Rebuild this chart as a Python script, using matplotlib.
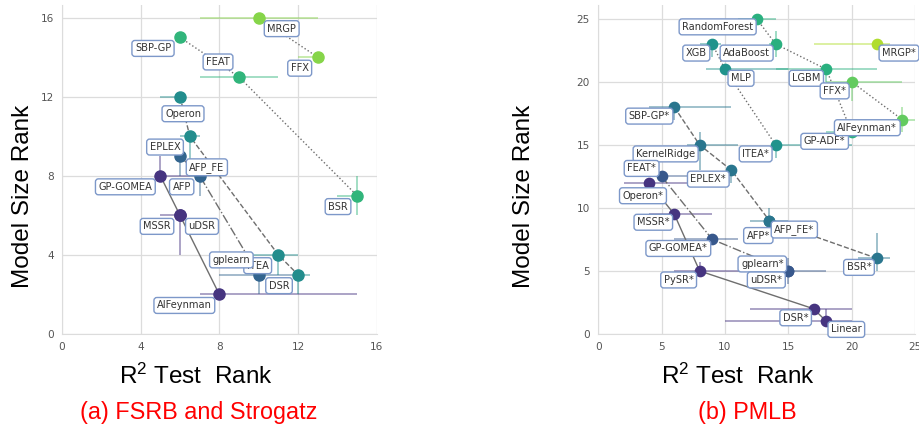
import numpy as np
import matplotlib
matplotlib.use("Agg")
import matplotlib.pyplot as plt

plt.rcParams["font.family"] = ["DejaVu Sans"]
plt.rcParams["mathtext.fontset"] = "custom"
plt.rcParams["mathtext.rm"] = "Liberation Sans"
plt.rcParams["mathtext.it"] = "Liberation Sans:italic"

# ---------------- (a) FSRB and Strogatz ----------------
methods_a = ["GP-GOMEA", "MSSR", "uDSR", "AIFeynman",
             "EPLEX", "AFP", "ITEA",
             "Operon", "AFP_FE", "DSR", "gplearn",
             "SBP-GP", "FEAT", "BSR",
             "MRGP", "FFX"]
r2_rank_a = [5, 6, 6, 8,
             6, 7, 10,
             6, 6.5, 12, 11,
             6, 9, 15,
             10, 13]
size_rank_a = [8, 6, 6, 2,
               9, 8, 3,
               12, 10, 3, 4,
               15, 13, 7,
               16, 14]
front_a = [1, 1, 1, 1,
           2, 2, 2,
           3, 3, 3, 3,
           4, 4, 4,
           5, 5]
r2_lo_a = [5, 5, 6, 7,
           6, 6.5, 8,
           5, 6, 12, 9.7,
           6, 7, 14,
           7, 12]
r2_hi_a = [6.5, 6, 6, 15,
           6, 7, 12,
           6, 7, 12.6, 12,
           6, 11, 15,
           13, 13]
size_lo_a = [8, 4, 6, 2,
             8, 7, 2,
             12, 8, 2, 3,
             15, 13, 6,
             16, 14]
size_hi_a = [9, 6, 6, 2,
             9, 8, 3,
             12, 10, 3, 4,
             15, 13, 8,
             16, 14]

# ---------------- (b) PMLB ----------------
methods_b = ["Operon*", "MSSR*", "PySR*", "DSR*", "Linear",
             "FEAT*", "GP-GOMEA*", "uDSR*", "gplearn*",
             "SBP-GP*", "KernelRidge", "EPLEX*", "AFP*", "AFP_FE*", "BSR*",
             "XGB", "MLP", "ITEA*",
             "RandomForest", "AdaBoost", "LGBM", "GP-ADF*",
             "FFX*", "AIFeynman*",
             "MRGP*"]
r2_rank_b = [4, 6, 8, 17, 18,
             5, 9, 15, 15,
             6, 8, 10.5, 13.5, 13.5, 22,
             9, 10, 14,
             12.5, 14, 18, 20,
             20, 24,
             22]
size_rank_b = [12, 9.5, 5, 2, 1,
               12.5, 7.5, 5, 5,
               18, 15, 13, 9, 9, 6,
               23, 21, 15,
               25, 23, 21, 16,
               20, 17,
               23]
front_b = [1, 1, 1, 1, 1,
           2, 2, 2, 2,
           3, 3, 3, 3, 3, 3,
           4, 4, 4,
           5, 5, 5, 5,
           6, 6,
           7]
r2_lo_b = [2, 4, 6, 12, 10,
           4, 6, 12, 15,
           4, 7, 10.5, 12, 13.5, 20.5,
           8, 8.5, 14,
           11, 13.5, 14, 18,
           18, 23,
           17]
r2_hi_b = [7, 9, 14, 20, 20,
           7, 11, 18, 15,
           10.5, 11, 10.5, 15, 13.5, 23,
           9.7, 15, 20,
           14, 14.5, 22, 20,
           24, 25,
           23]
size_lo_b = [12, 9.5, 5, 2, 1,
             12.5, 7.5, 4, 5,
             17, 13, 12, 8, 9, 5,
             22, 21, 14,
             25, 22, 20, 16,
             18.5, 16,
             23]
size_hi_b = [12, 9.5, 5.7, 2, 2,
             12.5, 7.5, 6, 5,
             18, 16, 13, 10, 9, 8,
             23, 21, 15,
             25, 24, 21, 16,
             20, 18,
             23]

# label box offsets from each point, in pixels (x right, y up)
label_offsets_a = {
    "MRGP": (23, -11), "FFX": (-18, -11), "SBP-GP": (-27, -11),
    "FEAT": (-21, 15), "Operon": (3, -17), "EPLEX": (-15, 9),
    "AFP_FE": (17, -31), "AFP": (-18, -11), "GP-GOMEA": (-35, -11),
    "MSSR": (-23, -11), "uDSR": (22, -11), "BSR": (-19, -11),
    "gplearn": (-47, -5), "ITEA": (-1, 9), "DSR": (-19, -11),
    "AIFeynman": (-35, -11),
}
label_offsets_b = {
    "RandomForest": (-39, -8), "XGB": (-16, -9), "AdaBoost": (-29, -9),
    "MLP": (16, -9), "LGBM": (-20, -9), "FFX*": (-17, -9),
    "MRGP*": (22, -9), "AIFeynman*": (-35, -8), "GP-ADF*": (-27, -9),
    "SBP-GP*": (-25, -9), "KernelRidge": (-34, -9), "ITEA*": (-20, -9),
    "FEAT*": (-20, 8), "EPLEX*": (-23, -9), "Operon*": (-6, -13),
    "MSSR*": (-21, -8), "AFP*": (-11, -15), "AFP_FE*": (25, -9),
    "GP-GOMEA*": (-34, -9), "gplearn*": (-26, 7), "uDSR*": (-22, -9),
    "BSR*": (-18, -9), "PySR*": (-21, -9), "DSR*": (-18, -9),
    "Linear": (20, -8),
}
# labels drawn last sit on top of the others
label_order_a = ["MRGP", "FFX", "SBP-GP", "FEAT", "Operon", "EPLEX", "AFP",
                 "AFP_FE", "GP-GOMEA", "MSSR", "uDSR", "BSR", "ITEA",
                 "gplearn", "DSR", "AIFeynman"]
label_order_b = ["RandomForest", "XGB", "AdaBoost", "MLP", "LGBM", "FFX*",
                 "MRGP*", "GP-ADF*", "AIFeynman*", "SBP-GP*", "KernelRidge",
                 "ITEA*", "FEAT*", "EPLEX*", "Operon*", "MSSR*", "AFP*",
                 "AFP_FE*", "GP-GOMEA*", "gplearn*", "uDSR*", "BSR*",
                 "PySR*", "DSR*", "Linear"]

LINESTYLES = ["-", "-.", "--", ":", ":", ":", ":"]
LABEL_FONT = ["Liberation Sans", "DejaVu Sans"]


def draw_panel(ax, methods, r2, size, front, r2_lo, r2_hi, size_lo, size_hi,
               offsets, order, xmax, ymax, ticks, ms, cmax):
    fronts = sorted(set(front))
    colors = plt.cm.viridis(np.linspace(0.15, cmax, len(fronts)))
    for k, f in enumerate(fronts):
        idx = [i for i in range(len(methods)) if front[i] == f]
        idx.sort(key=lambda i: (r2[i], -size[i]))
        xs = np.array([r2[i] for i in idx], dtype=float)
        ys = np.array([size[i] for i in idx], dtype=float)
        xerr = [xs - np.array([r2_lo[i] for i in idx]),
                np.array([r2_hi[i] for i in idx]) - xs]
        yerr = [ys - np.array([size_lo[i] for i in idx]),
                np.array([size_hi[i] for i in idx]) - ys]
        ax.errorbar(xs, ys, xerr=xerr, yerr=yerr, fmt="none",
                    ecolor=colors[k], alpha=0.45, elinewidth=1.4,
                    capsize=0, zorder=1)
        ax.plot(xs, ys, color="#6e6e6e", lw=1.0, ls=LINESTYLES[k], zorder=2)
        ax.plot(xs, ys, "o", ls="none", color=colors[k], ms=ms,
                mec=colors[k], zorder=3)

    pos = {m: (r2[i], size[i]) for i, m in enumerate(methods)}
    for m in order:
        ax.annotate(m, pos[m], xytext=offsets[m], textcoords="offset pixels",
                    ha="center", va="center", fontsize=7.1, color="#333333",
                    bbox=dict(boxstyle="round,pad=0.3", fc="white",
                              ec="#7d98c9", lw=1.0),
                    zorder=5)

    ax.set_xlim(0, xmax)
    ax.set_ylim(0, ymax)
    ax.set_xticks(ticks)
    ax.set_yticks(ticks)
    ax.grid(True, color="#dcdcdc", lw=0.9)
    ax.set_axisbelow(True)
    for s in ["top", "right"]:
        ax.spines[s].set_visible(False)
    for s in ["left", "bottom"]:
        ax.spines[s].set_color("#dcdcdc")
    ax.tick_params(length=0, labelsize=7.6, labelcolor="#555555", pad=6)


fig = plt.figure(figsize=(9.2, 4.3), dpi=100)
ax_a = fig.add_axes([62 / 920, 96 / 430, 314.7 / 920, 329 / 430])
ax_b = fig.add_axes([598.3 / 920, 96 / 430, 316.7 / 920, 329 / 430])

draw_panel(ax_a, methods_a, r2_rank_a, size_rank_a, front_a,
           r2_lo_a, r2_hi_a, size_lo_a, size_hi_a,
           label_offsets_a, label_order_a, 16, 16.64, [0, 4, 8, 12, 16], 8,
           0.82)
draw_panel(ax_b, methods_b, r2_rank_b, size_rank_b, front_b,
           r2_lo_b, r2_hi_b, size_lo_b, size_hi_b,
           label_offsets_b, label_order_b, 25, 26.1, [0, 5, 10, 15, 20, 25],
           7.4, 0.88)

for ax, xl, yl in [(ax_a, 0.426, -0.124), (ax_b, 0.441, -0.235)]:
    ax.set_xlabel("R$^2$ Test  Rank", fontsize=17.5, family=LABEL_FONT)
    ax.set_ylabel("Model Size Rank", fontsize=17.5, family=LABEL_FONT)
    ax.xaxis.set_label_coords(xl, -0.128)
    ax.xaxis.label.set_va("center")
    ax.yaxis.set_label_coords(yl, 0.419)
    ax.yaxis.label.set_va("center")

fig.text(199 / 920, 1 - 412 / 430, "(a) FSRB and Strogatz", color="red",
         fontsize=16.8, family=LABEL_FONT, ha="center", va="center")
fig.text(747 / 920, 1 - 412 / 430, "(b) PMLB", color="red",
         fontsize=16.8, family=LABEL_FONT, ha="center", va="center")

fig.savefig("out.png", dpi=100)
